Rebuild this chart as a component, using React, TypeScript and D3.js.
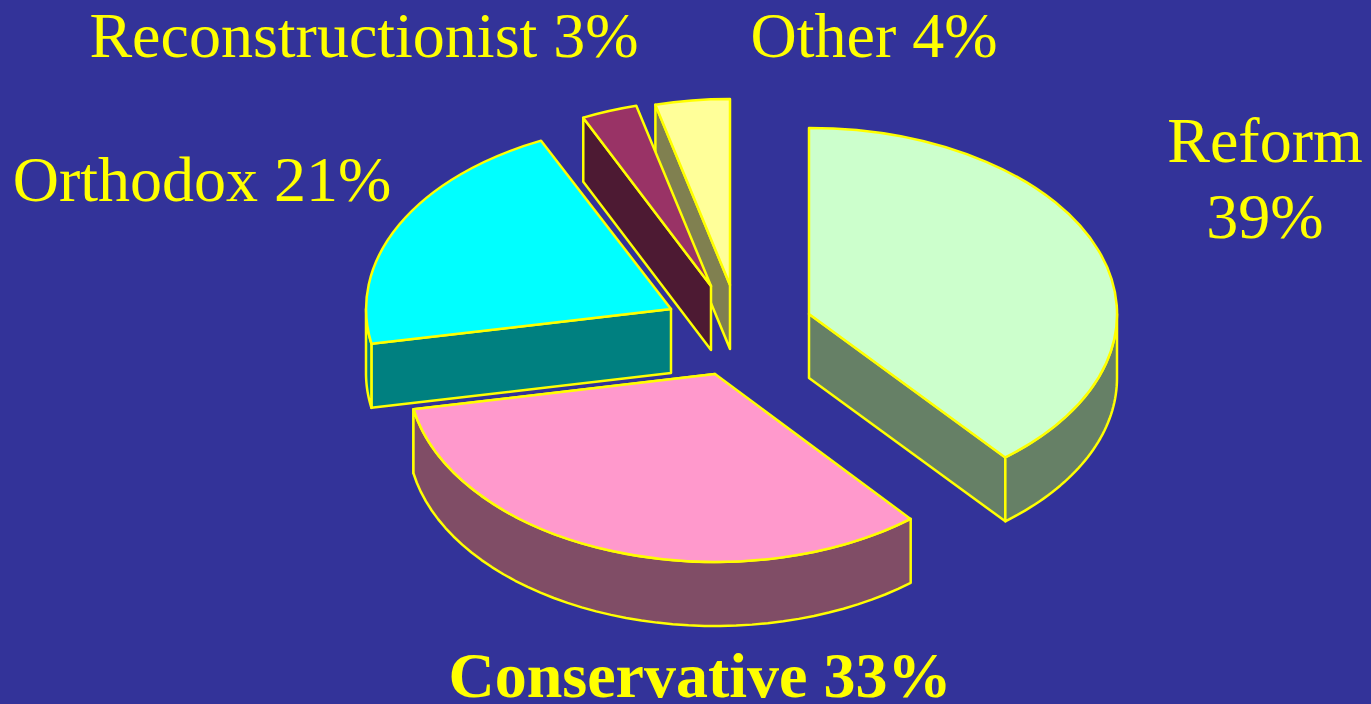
import * as d3 from 'd3';

const categories = ['Reform', 'Conservative', 'Orthodox', 'Reconstructionist', 'Other'];
const values = [39, 33, 21, 3, 4];
const topColors = ['#ccffcc', '#ff99cc', '#00ffff', '#993366', '#ffff99'];
const sideColors = ['#668066', '#804d66', '#008080', '#4d1a33', '#808050'];
// where each exploded slice sits
const apexX = [809, 715, 671, 711, 730];
const apexY = [314, 374, 309, 286, 285];
const radiusX = [308, 307, 305, 300, 300];
const radiusY = [186, 188, 186, 186, 186];

const width = 1371;
const height = 704;
const depth = 64;

const labels = [
  { text: ['Reform', '39%'], x: 1265, y: [162, 238], anchor: 'middle', bold: false },
  { text: ['Conservative 33%'], x: 700, y: [696.5], anchor: 'middle', bold: true },
  { text: ['Orthodox 21%'], x: 202, y: [200.5], anchor: 'middle', bold: false },
  { text: ['Reconstructionist 3%'], x: 364, y: [57], anchor: 'middle', bold: false },
  { text: ['Other 4%'], x: 874, y: [57], anchor: 'middle', bold: false },
];

const arcs = d3.pie<number>().sort(null)(values);
const unitArc = d3.arc<d3.PieArcDatum<number>>().innerRadius(0).outerRadius(1);

const yellow = '#ffff00';

export default function App() {
  // back-to-front so nearer slices cover the others
  const drawOrder = [4, 3, 2, 0, 1];

  const pointAt = (i: number, a: number, drop = 0): [number, number] => [
    apexX[i] + radiusX[i] * Math.sin(a),
    apexY[i] - radiusY[i] * Math.cos(a) + drop,
  ];

  const wallPath = (i: number, a0: number, a1: number) => {
    const steps = d3.range(0, 41).map((k) => a0 + ((a1 - a0) * k) / 40);
    const upper = steps.map((a) => pointAt(i, a));
    const lower = steps.map((a) => pointAt(i, a, depth)).reverse();
    return d3.line()([...upper, ...lower]) + 'Z';
  };

  const facePath = (i: number, a: number) =>
    d3.line()([
      [apexX[i], apexY[i]],
      [apexX[i], apexY[i] + depth],
      pointAt(i, a, depth),
      pointAt(i, a),
    ]) + 'Z';

  return (
    <svg
      width={width}
      height={height}
      style={{ position: 'absolute', left: 0, top: 0, background: '#333399' }}
    >
      <rect width={width} height={height} fill="#333399" />
      {drawOrder.map((i) => {
        const d = arcs[i];
        // the outer wall shows only on the near half of the ellipse
        const wallFrom = Math.max(d.startAngle, Math.PI / 2);
        const wallTo = Math.min(d.endAngle, (3 * Math.PI) / 2);
        // the cut edge that faces the viewer
        const cutAngle = d.startAngle < Math.PI ? d.endAngle : d.startAngle;
        return (
          <g key={categories[i]} stroke={yellow} strokeWidth={2.5} strokeLinejoin="round">
            <path d={facePath(i, cutAngle)} fill={sideColors[i]} />
            {wallFrom < wallTo && <path d={wallPath(i, wallFrom, wallTo)} fill={sideColors[i]} />}
            <path
              d={unitArc(d) as string}
              transform={`translate(${apexX[i]},${apexY[i]}) scale(${radiusX[i]},${radiusY[i]})`}
              fill={topColors[i]}
              vectorEffect="non-scaling-stroke"
            />
          </g>
        );
      })}
      <g fontFamily="'Liberation Serif', serif" fontSize={64} fill={yellow}>
        {labels.map((l) =>
          l.text.map((t, k) => (
            <text
              key={t}
              x={l.x}
              y={l.y[k]}
              textAnchor={l.anchor}
              fontWeight={l.bold ? 'bold' : 'normal'}
            >
              {t}
            </text>
          )),
        )}
      </g>
    </svg>
  );
}
